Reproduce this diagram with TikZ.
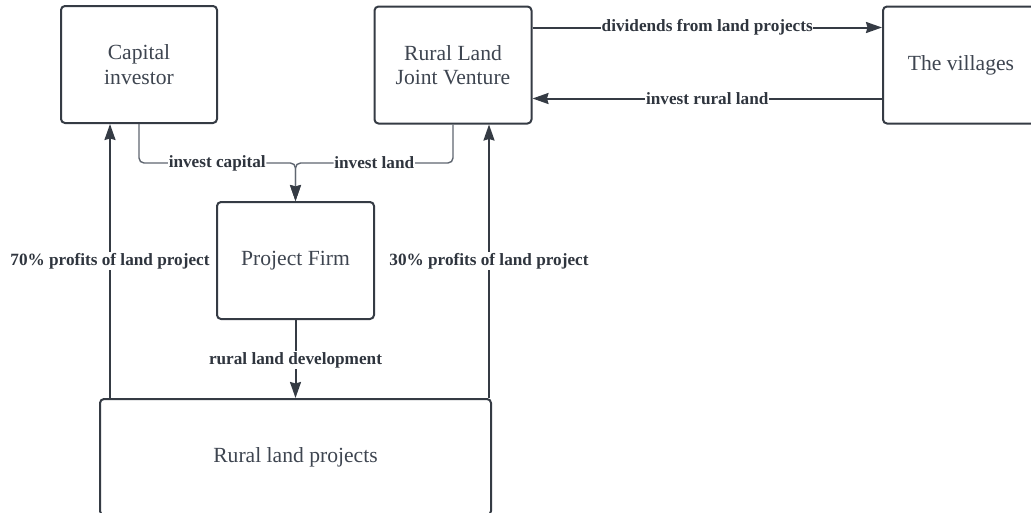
\documentclass[tikz,border=0pt]{standalone}
\usepackage{fontspec}
\setmainfont{Liberation Serif}
\usetikzlibrary{arrows.meta,calc}
\definecolor{edge}{HTML}{353B44}
\definecolor{ink}{HTML}{3E4550}
\definecolor{lblink}{HTML}{2F353E}
\definecolor{soft}{HTML}{5F6670}
\tikzset{
  tip/.style={-{Stealth[length=16pt,width=11pt,inset=1.5pt,#1]}},
  box/.style={draw=edge, line width=2pt, rounded corners=4pt, fill=white,
    text=ink, align=center, inner sep=0pt,
    font=\fontsize{21.6}{24.5}\selectfont},
  arr/.style={draw=edge, line width=2pt, tip={}},
  feed/.style={draw=soft, line width=1.4pt, rounded corners=5pt, tip={color=edge}},
  lbl/.style={fill=white, text=lblink, inner xsep=0.6pt, inner ysep=1pt,
    font=\fontsize{17.2}{19}\bfseries\selectfont}
}
\begin{document}
\begin{tikzpicture}[x=1pt,y=-1pt]
\useasboundingbox (0,0) rectangle (1031,512);
\begin{scope}
\clip (0,0) rectangle (1031,512);
% boxes
\node[box, minimum width=156pt, minimum height=117pt] (cap) at (139,64.5) {Capital\\investor};
\node[box, minimum width=157pt, minimum height=117pt] (jv) at (453,65) {Rural Land\\Joint Venture};
\node[box, minimum width=156pt, minimum height=117pt] (vil) at (961,65) {The villages};
\node[box, minimum width=157pt, minimum height=117pt] (pf) at (295.5,260.5) {Project Firm};
\node[box, minimum width=391pt, minimum height=116pt] (rlp) at (295.5,457) {Rural land projects};

% where the two feeds join above the project firm
\coordinate (merge) at (pf.north |- 0,163);

% feeds into the project firm
\draw[feed] (cap.south) |- (merge) node[lbl, pos=0.75] {invest capital} -- (pf.north);
\draw[feed] (jv.south) |- (merge) node[lbl, pos=0.75] {invest land} -- (pf.north);

% development
\draw[arr] (pf.south) -- (rlp.north) node[lbl, midway, yshift=-1pt] {rural land development};

% profit shares
\coordinate (p70) at ($(rlp.north west)+(11,0)$);
\coordinate (p30) at ($(rlp.north east)+(-3,0)$);
\draw[arr] (p70) -- (p70 |- cap.south) node[lbl, pos=0.5] {70\% profits of land project};
\draw[arr] (p30) -- (p30 |- jv.south) node[lbl, pos=0.5] {30\% profits of land project};

% exchange with the villages
\coordinate (dv) at ($(jv.north east)+(0,22)$);
\coordinate (ir) at ($(vil.north west)+(0,93)$);
\draw[arr] (dv) -- (dv -| vil.west) node[lbl, midway] {dividends from land projects};
\draw[arr] (ir) -- (ir -| jv.east) node[lbl, midway] {invest rural land};
\end{scope}
\end{tikzpicture}
\end{document}
